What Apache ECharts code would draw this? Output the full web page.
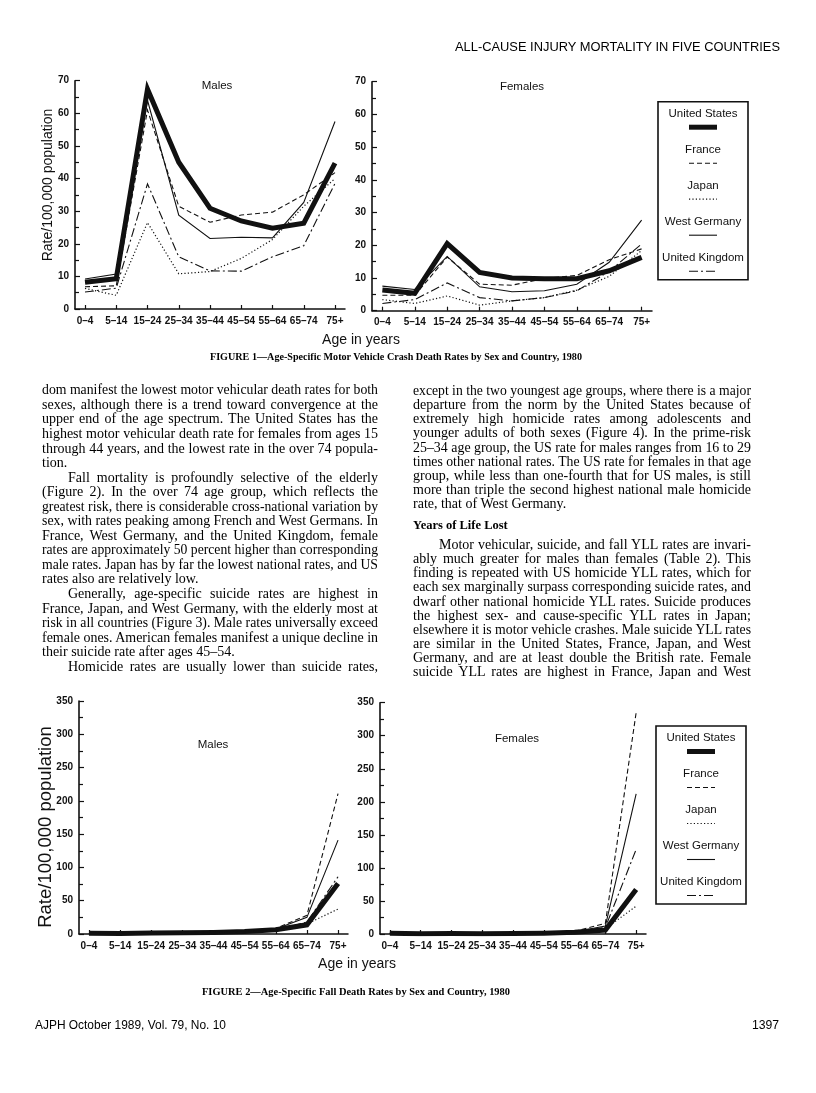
<!DOCTYPE html>
<html>
<head>
<meta charset="utf-8">
<title>All-cause injury mortality in five countries</title>
<script src="https://cdn.jsdelivr.net/npm/echarts@6.0.0/dist/echarts.min.js"></script>
<style>
  html, body { margin: 0; padding: 0; background: #fff; }
  #page { position: relative; width: 816px; height: 1093px; overflow: hidden; background: #fff; }
  #chart { position: absolute; left: 0; top: 0; width: 816px; height: 1093px; }
  .ln { position: absolute; white-space: nowrap; color: #000; line-height: 1; transform-origin: 0 50%; }
  .body { font-family: "Liberation Serif", "Times New Roman", serif; font-size: 14px; }
  .cap { font-family: "Liberation Serif", "Times New Roman", serif; font-size: 10.5px; font-weight: bold; }
  .head { font-family: "Liberation Serif", "Times New Roman", serif; font-size: 12.5px; font-weight: bold; }
  .sans { font-family: "Liberation Sans", Arial, sans-serif; font-size: 12.2px; }
  .top { font-family: "Liberation Sans", Arial, sans-serif; font-size: 13px; }
</style>
</head>
<body>
<div id="page">
  <div id="chart"></div>
</div>
<script>
// age groups on the x axis
const ages = ['0–4', '5–14', '15–24', '25–34', '35–44', '45–54', '55–64', '65–74', '75+'];
const countries = ['United States', 'France', 'Japan', 'West Germany', 'United Kingdom'];

// Figure 1: motor vehicle crash death rates per 100,000, males
const crashMaleUS = [8.2, 9.3, 67.4, 45.0, 30.9, 27.0, 24.8, 26.3, 44.7];
const crashMaleFrance = [6.8, 7.1, 61.0, 31.5, 26.6, 28.8, 29.7, 35.0, 41.8];
const crashMaleJapan = [6.3, 4.2, 26.5, 10.8, 11.5, 15.5, 21.3, 31.5, 40.0];
const crashMaleWG = [9.2, 10.7, 64.0, 28.8, 21.6, 22.0, 21.8, 32.7, 57.5];
const crashMaleUK = [5.2, 6.4, 38.4, 16.0, 11.7, 11.6, 16.0, 19.4, 38.5];

// Figure 1: females
const crashFemaleUS = [6.3, 5.3, 20.5, 11.7, 10.0, 9.8, 9.8, 12.2, 16.3];
const crashFemaleFrance = [4.7, 4.7, 16.4, 8.1, 7.8, 9.8, 10.8, 15.6, 18.9];
const crashFemaleJapan = [3.4, 2.2, 4.5, 1.7, 3.0, 4.0, 6.3, 10.5, 18.4];
const crashFemaleWG = [7.5, 6.5, 16.6, 7.3, 5.8, 6.1, 8.1, 14.8, 27.7];
const crashFemaleUK = [2.2, 3.4, 8.5, 4.0, 3.0, 4.0, 6.1, 12.0, 20.4];

// Figure 2: fall death rates per 100,000, males
const fallMaleUS = [1.2, 0.6, 1.5, 1.8, 2.4, 3.8, 6.5, 13.8, 76.0];
const fallMaleFrance = [1.5, 0.8, 2.0, 2.2, 3.0, 5.0, 8.5, 28.0, 211.0];
const fallMaleJapan = [1.0, 0.4, 1.2, 1.5, 2.2, 3.5, 6.0, 15.0, 37.5];
const fallMaleWG = [1.6, 0.8, 1.8, 2.0, 2.8, 4.5, 7.5, 25.0, 141.0];
const fallMaleUK = [0.8, 0.4, 1.0, 1.2, 1.8, 3.0, 5.5, 18.0, 86.0];

// Figure 2: females
const fallFemaleUS = [1.0, 0.4, 0.6, 0.5, 0.7, 1.2, 2.5, 6.0, 67.5];
const fallFemaleFrance = [1.2, 0.5, 0.7, 0.8, 1.0, 1.8, 4.0, 16.0, 335.0];
const fallFemaleJapan = [0.8, 0.3, 0.4, 0.5, 0.8, 1.3, 3.0, 8.0, 42.0];
const fallFemaleWG = [1.3, 0.5, 0.6, 0.6, 0.9, 1.6, 3.5, 12.0, 212.0];
const fallFemaleUK = [0.6, 0.3, 0.4, 0.4, 0.7, 1.4, 3.2, 10.0, 128.0];

const crashTicks = [0, 10, 20, 30, 40, 50, 60, 70];
const fallTicks = [0, 50, 100, 150, 200, 250, 300, 350];

const ink = '#111';
// line look per country: US heavy, then dashed, dotted, thin, dash-dot
const looks = [
  { width: 5, type: 'solid', dash: null },
  { width: 1.1, type: [5, 3], dash: [5, 3] },
  { width: 1.2, type: [1.2, 2.2], dash: [1.2, 2.2] },
  { width: 1.1, type: 'solid', dash: null },
  { width: 1.1, type: [9, 3, 2, 3], dash: [9, 3, 2, 3] }
];

const panels = [
  { left: 75, top: 80.7, width: 270, height: 228.3, ticks: crashTicks, sets: [crashMaleUS, crashMaleFrance, crashMaleJapan, crashMaleWG, crashMaleUK] },
  { left: 372, top: 81.7, width: 280, height: 229, ticks: crashTicks, sets: [crashFemaleUS, crashFemaleFrance, crashFemaleJapan, crashFemaleWG, crashFemaleUK] },
  { left: 79, top: 701, width: 269, height: 233, ticks: fallTicks, sets: [fallMaleUS, fallMaleFrance, fallMaleJapan, fallMaleWG, fallMaleUK] },
  { left: 380, top: 702.7, width: 266, height: 231.3, ticks: fallTicks, sets: [fallFemaleUS, fallFemaleFrance, fallFemaleJapan, fallFemaleWG, fallFemaleUK] }
];

const ageIdx = ages.map((a, i) => i);
const tickFont = { color: ink, fontSize: 10, fontWeight: 'bold', fontFamily: 'Liberation Sans' };

const grid = [], xAxis = [], yAxis = [], series = [];
panels.forEach((p, i) => {
  grid.push({ left: p.left, top: p.top, width: p.width, height: p.height });
  xAxis.push({
    type: 'value', gridIndex: i, min: -0.32, max: 8.32,
    axisLine: { show: true, onZero: false, lineStyle: { color: ink, width: 1.5 } },
    axisTick: { show: true, inside: true, length: 4, customValues: ageIdx, lineStyle: { color: ink, width: 1.2 } },
    axisLabel: Object.assign({ customValues: ageIdx, margin: 7, formatter: v => ages[Math.round(v)] }, tickFont),
    splitLine: { show: false }
  });
  const step = p.ticks[1] - p.ticks[0];
  yAxis.push({
    type: 'value', gridIndex: i, min: p.ticks[0], max: p.ticks[p.ticks.length - 1], interval: step,
    axisLine: { show: true, onZero: false, lineStyle: { color: ink, width: 1.6 } },
    axisTick: { show: true, inside: true, length: 5, lineStyle: { color: ink, width: 1.2 } },
    minorTick: { show: true, splitNumber: 2, length: 4, lineStyle: { color: ink, width: 1.2 } },
    axisLabel: Object.assign({ margin: 6 }, tickFont),
    splitLine: { show: false }
  });
  p.sets.forEach((vals, c) => {
    series.push({
      type: 'line', name: countries[c], xAxisIndex: i, yAxisIndex: i,
      data: vals.map((v, k) => [k, v]),
      symbol: 'none', silent: true, z: c === 0 ? 3 : 4,
      lineStyle: { color: ink, width: looks[c].width, type: looks[c].type, join: 'miter', cap: 'butt' }
    });
  });
});

const labelFont = '11.5px "Liberation Sans", Arial, sans-serif';
function txt(x, y, text, font, rot) {
  return { type: 'text', x: x, y: y, rotation: rot || 0, silent: true,
    style: { text: text, font: font || labelFont, fill: ink, align: 'center', verticalAlign: 'middle' } };
}

function legendBox(cx, top) {
  const out = [{ type: 'rect', silent: true, shape: { x: cx - 45, y: top, width: 90, height: 178 },
    style: { fill: '#fff', stroke: ink, lineWidth: 1.6 } }];
  countries.forEach((name, k) => {
    out.push(txt(cx, top + 12 + 36 * k, name));
    const ly = top + 25.5 + 36 * k;
    out.push({ type: 'line', silent: true, shape: { x1: cx - 14, y1: ly, x2: cx + 14, y2: ly },
      style: { stroke: ink, lineWidth: looks[k].width, lineDash: looks[k].dash } });
  });
  return out;
}

const graphic = [
  txt(217, 86, 'Males'),
  txt(522, 86.5, 'Females'),
  txt(48, 185, 'Rate/100,000 population', '14px "Liberation Sans", Arial, sans-serif', Math.PI / 2),
  txt(361, 340, 'Age in years', '14px "Liberation Sans", Arial, sans-serif'),
  txt(213, 745, 'Males'),
  txt(517, 738.5, 'Females'),
  txt(46, 827, 'Rate/100,000 population', '18.5px "Liberation Sans", Arial, sans-serif', Math.PI / 2),
  txt(357, 964, 'Age in years', '14px "Liberation Sans", Arial, sans-serif')
].concat(legendBox(703, 101.7), legendBox(701, 726));

const chart = echarts.init(document.getElementById('chart'), null, { renderer: 'canvas' });
chart.setOption({
  animation: false,
  backgroundColor: '#fff',
  grid: grid, xAxis: xAxis, yAxis: yAxis, series: series,
  graphic: graphic
});

// ---- page text ----
const page = document.getElementById('page');

function line(text, x, yc, width, cls, justify, indent) {
  const d = document.createElement('div');
  d.className = 'ln ' + cls;
  d.textContent = text;
  page.appendChild(d);
  const fs = parseFloat(getComputedStyle(d).fontSize);
  const ind = indent || 0;
  d.style.left = (x + ind) + 'px';
  d.style.top = (yc - 0.6 * fs) + 'px';
  const avail = width - ind;
  const w = d.getBoundingClientRect().width;
  if (w > avail) {
    d.style.transform = 'scaleX(' + (avail / w) + ')';
  } else if (justify) {
    const gaps = (text.match(/ /g) || []).length;
    if (gaps) d.style.wordSpacing = ((avail - w) / gaps) + 'px';
  }
}

// paragraphs: [text, indent?, lastLineOfParagraph?]
const leftCol = [
  ['dom manifest the lowest motor vehicular death rates for both'],
  ['sexes, although there is a trend toward convergence at the'],
  ['upper end of the age spectrum. The United States has the'],
  ['highest motor vehicular death rate for females from ages 15'],
  ['through 44 years, and the lowest rate in the over 74 popula-'],
  ['tion.', 0, 1],
  ['Fall mortality is profoundly selective of the elderly', 1],
  ['(Figure 2). In the over 74 age group, which reflects the'],
  ['greatest risk, there is considerable cross-national variation by'],
  ['sex, with rates peaking among French and West Germans. In'],
  ['France, West Germany, and the United Kingdom, female'],
  ['rates are approximately 50 percent higher than corresponding'],
  ['male rates. Japan has by far the lowest national rates, and US'],
  ['rates also are relatively low.', 0, 1],
  ['Generally, age-specific suicide rates are highest in', 1],
  ['France, Japan, and West Germany, with the elderly most at'],
  ['risk in all countries (Figure 3). Male rates universally exceed'],
  ['female ones. American females manifest a unique decline in'],
  ['their suicide rate after ages 45–54.', 0, 1],
  ['Homicide rates are usually lower than suicide rates,', 1]
];
const rightTop = [
  ['except in the two youngest age groups, where there is a major'],
  ['departure from the norm by the United States because of'],
  ['extremely high homicide rates among adolescents and'],
  ['younger adults of both sexes (Figure 4). In the prime-risk'],
  ['25–34 age group, the US rate for males ranges from 16 to 29'],
  ['times other national rates. The US rate for females in that age'],
  ['group, while less than one-fourth that for US males, is still'],
  ['more than triple the second highest national male homicide'],
  ['rate, that of West Germany.', 0, 1]
];
const rightBottom = [
  ['Motor vehicular, suicide, and fall YLL rates are invari-', 1],
  ['ably much greater for males than females (Table 2). This'],
  ['finding is repeated with US homicide YLL rates, which for'],
  ['each sex marginally surpass corresponding suicide rates, and'],
  ['dwarf other national homicide YLL rates. Suicide produces'],
  ['the highest sex- and cause-specific YLL rates in Japan;'],
  ['elsewhere it is motor vehicle crashes. Male suicide YLL rates'],
  ['are similar in the United States, France, Japan, and West'],
  ['Germany, and are at least double the British rate. Female'],
  ['suicide YLL rates are highest in France, Japan and West']
];

function column(rows, x, y0, step, width) {
  rows.forEach((r, k) => line(r[0], x, y0 + k * step, width, 'body', !r[2], r[1] ? 26 : 0));
}

document.fonts.ready.then(() => {
  line('ALL-CAUSE INJURY MORTALITY IN FIVE COUNTRIES', 455, 48, 325, 'top', true);
  line('FIGURE 1—Age-Specific Motor Vehicle Crash Death Rates by Sex and Country, 1980', 210, 358, 372, 'cap', true);
  column(leftCol, 42, 391.7, 14.55, 336);
  column(rightTop, 413, 392.3, 14.18, 338);
  line('Years of Life Lost', 413, 526.7, 200, 'head', false);
  column(rightBottom, 413, 546.5, 14.1, 338);
  line('FIGURE 2—Age-Specific Fall Death Rates by Sex and Country, 1980', 202, 993, 308, 'cap', true);
  line('AJPH October 1989, Vol. 79, No. 10', 35, 1026, 191, 'sans', true);
  line('1397', 752, 1026, 30, 'sans', false);
});
</script>
</body>
</html>
